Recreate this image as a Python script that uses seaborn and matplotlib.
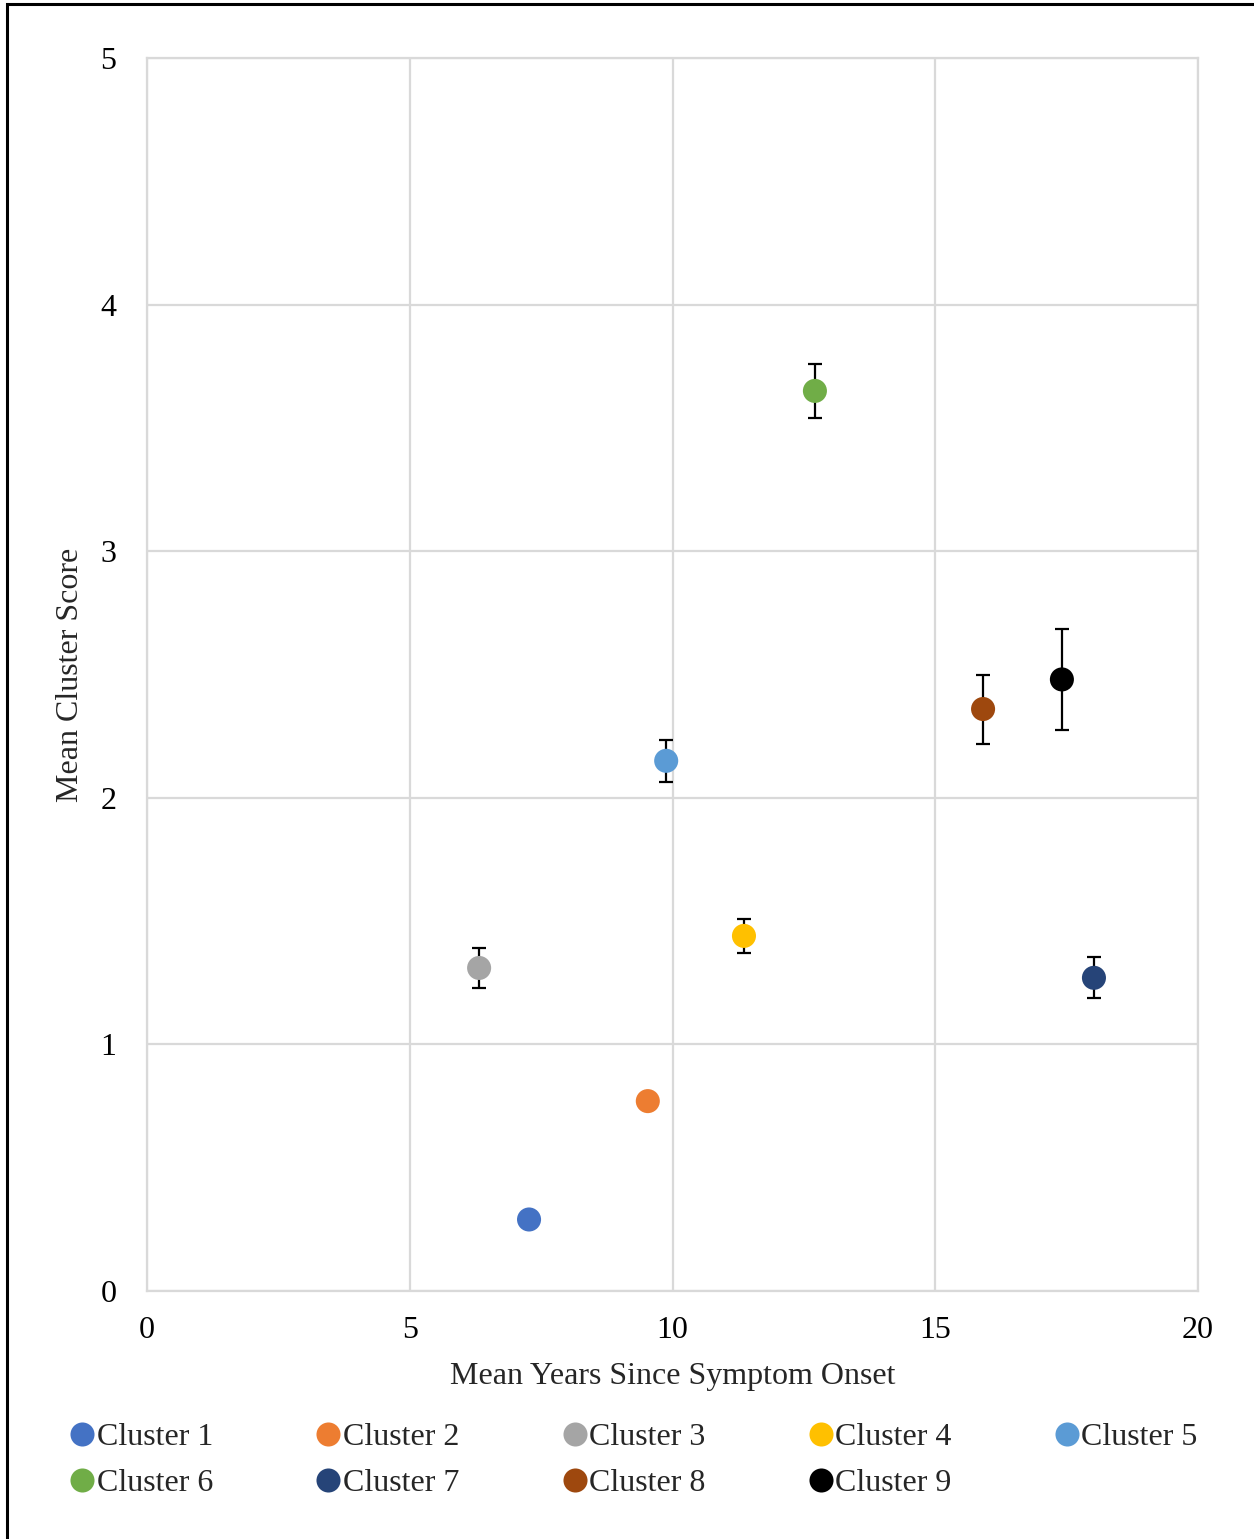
import matplotlib
matplotlib.use("Agg")
import matplotlib.pyplot as plt
import seaborn as sns
import pandas as pd
from matplotlib.patches import Rectangle

clusters = ["Cluster 1", "Cluster 2", "Cluster 3", "Cluster 4", "Cluster 5",
            "Cluster 6", "Cluster 7", "Cluster 8", "Cluster 9"]
years = [7.27, 9.53, 6.32, 11.36, 9.88, 12.71, 18.02, 15.91, 17.41]
scores = [0.29, 0.77, 1.31, 1.44, 2.15, 3.65, 1.27, 2.36, 2.48]
errors = [0.0, 0.03, 0.08, 0.07, 0.085, 0.11, 0.083, 0.14, 0.205]
colors = ["#4472C4", "#ED7D31", "#A5A5A5", "#FFC000", "#5B9BD5",
          "#70AD47", "#264478", "#9E480E", "#000000"]

df = pd.DataFrame({"cluster": clusters, "years": years, "score": scores, "err": errors})

sns.set_theme(style="white")
plt.rcParams['font.family'] = ['Liberation Serif', 'DejaVu Serif']

fig = plt.figure(figsize=(12.54, 15.39), dpi=100)
ax = fig.add_axes([147/1254, 1 - 1291/1539, (1198-147)/1254, (1291-58)/1539])

ax.errorbar(df["years"], df["score"], yerr=df["err"], fmt="none",
            ecolor="black", elinewidth=1.6, capsize=5, capthick=1.6, zorder=2)
sns.scatterplot(data=df, x="years", y="score", hue="cluster", palette=colors,
                s=300, edgecolor="none", ax=ax, zorder=3, legend=True)

ax.set_xlim(0, 20)
ax.set_ylim(0, 5)
ax.set_xticks([0, 5, 10, 15, 20])
ax.set_yticks([0, 1, 2, 3, 4, 5])
ax.grid(True, color="#d9d9d9", linewidth=1.6)
for sp in ax.spines.values():
    sp.set_color("#d9d9d9")
    sp.set_linewidth(1.6)
ax.tick_params(axis="both", length=0, labelsize=23, colors="black")
ax.tick_params(axis="y", pad=22)
ax.tick_params(axis="x", pad=18)
ax.set_xlabel("Mean Years Since Symptom Onset", fontsize=23, labelpad=12)
ax.set_ylabel("Mean Cluster Score", fontsize=23, labelpad=11)

handles, labels = ax.get_legend_handles_labels()
ax.get_legend().remove()
order = [0, 5, 1, 6, 2, 7, 3, 8, 4]
fig.legend([handles[i] for i in order], [labels[i] for i in order],
           loc="upper left", bbox_to_anchor=(68/1254, 1 - 1423/1539),
           ncol=5, frameon=False, fontsize=23, handletextpad=0.0,
           borderpad=0, borderaxespad=0,
           columnspacing=3.16, labelspacing=0.5, markerscale=1.0, handlelength=0.9)

fig.patches.append(Rectangle((7/1254, -0.01), 1.1, 1 - 4/1539 + 0.01, transform=fig.transFigure,
                             fill=False, edgecolor="black", linewidth=2.2))

fig.savefig("out.png", dpi=100, facecolor="white")
